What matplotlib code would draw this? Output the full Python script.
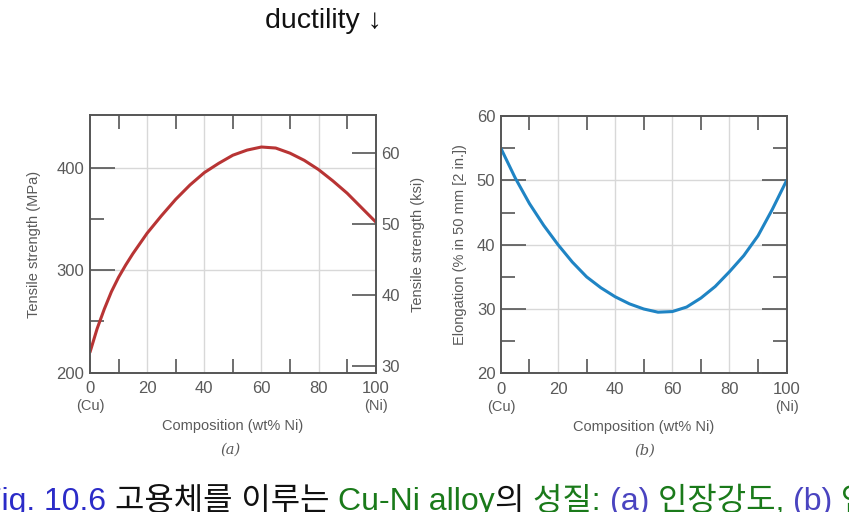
import matplotlib
matplotlib.use("Agg")
import matplotlib.pyplot as plt
import numpy as np

# (a) tensile strength vs composition
comp_a = [0, 2.5, 5, 7.5, 10, 12.5, 15, 17.5, 20, 25, 30, 35, 40, 45, 50, 55, 60, 65, 70, 75, 80, 85, 90, 95, 100]
tensile = [220, 243, 262, 279, 293, 305, 316, 326, 336, 353, 369, 383, 395, 404, 412, 417, 420, 419, 414, 407, 398, 387, 375, 361, 347]

# (b) elongation vs composition
comp_b = [0, 5, 10, 15, 20, 25, 30, 35, 40, 45, 50, 55, 60, 65, 70, 75, 80, 85, 90, 95, 100]
elong = [55, 50.4, 46.4, 43, 40, 37.3, 35, 33.3, 31.9, 30.8, 30, 29.5, 29.6, 30.3, 31.7, 33.5, 35.8, 38.3, 41.4, 45.5, 50]

xticks = [0, 20, 40, 60, 80, 100]
caption = [("Fig. 10.6 ", "#2b2bc8"), ("고용체를 이루는 ", "#111111"), ("Cu-Ni alloy", "#1a7a1a"),
           ("의 ", "#111111"), ("성질: ", "#1a7a1a"), ("(a) ", "#4a44c0"), ("인장강도, ", "#1a7a1a"),
           ("(b) ", "#4a44c0"), ("연성", "#1a7a1a")]

TXT = "#5a5a5a"
SP = "#555555"
GRID = "#d8d8d8"
plt.rcParams['font.family'] = ['Liberation Sans', 'Noto Sans CJK KR']

fig = plt.figure(figsize=(8.49, 5.12), dpi=100)


def style_axes(ax, ylim, ymajor, yminor, ygrid):
    ax.set_xlim(0, 100)
    ax.set_ylim(*ylim)
    for s in ax.spines.values():
        s.set_color(SP)
        s.set_linewidth(1.4)
    for g in [20, 40, 60, 80]:
        ax.axvline(g, color=GRID, lw=1, zorder=0)
    for g in ygrid:
        ax.axhline(g, color=GRID, lw=1, zorder=0)
    ax.set_xticks(xticks)
    ax.set_xticks([10, 30, 50, 70, 90], minor=True)
    ax.set_xticklabels([str(v) for v in xticks])
    ax.set_yticks(ymajor)
    ax.set_yticks(yminor, minor=True)
    ax.tick_params(which='major', direction='in', length=18, width=1.2, color=SP,
                   labelsize=12, labelcolor=TXT, top=True, bottom=True, pad=4)
    ax.tick_params(which='minor', direction='in', length=10, width=1.2, color=SP, top=True, bottom=True)
    ax.tick_params(axis='x', which='major', length=0, pad=6)
    ax.text(0, -0.13, "(Cu)", transform=ax.get_xaxis_transform(), ha='center', va='center',
            fontsize=10.5, color=TXT)
    ax.text(100, -0.13, "(Ni)", transform=ax.get_xaxis_transform(), ha='center', va='center',
            fontsize=10.5, color=TXT)
    ax.set_xlabel("Composition (wt% Ni)", fontsize=10.5, color=TXT)
    ax.xaxis.set_label_coords(0.5, -0.18)


# panel (a)
ax1 = fig.add_axes([0.106, 0.272, 0.3365, 0.503])
style_axes(ax1, (200, 451), [200, 300, 400], [250, 350], [300, 400])
ax1.plot(comp_a, tensile, color="#b83434", lw=2.2, solid_joinstyle='round', solid_capstyle='round')
ax1.tick_params(axis='y', which='both', right=False)
ax1.set_ylabel("Tensile strength (MPa)", fontsize=10.5, color=TXT)
ax1.yaxis.set_label_coords(-0.17, 0.5)
ax1.text(0.49, -0.30, "(a)", transform=ax1.transAxes, ha='center', va='center',
         fontsize=10.5, style='italic', family='DejaVu Serif', color=TXT)

ax1r = ax1.twinx()
ax1r.set_ylim(200 / 6.895, 451 / 6.895)
ax1r.set_yticks([30, 40, 50, 60])
ax1r.tick_params(direction='in', length=17, width=1.2, color=SP, labelsize=12, labelcolor=TXT, pad=4)
for s in ax1r.spines.values():
    s.set_visible(False)
ax1r.set_ylabel("Tensile strength (ksi)", fontsize=10.5, color=TXT)
ax1r.yaxis.set_label_coords(1.122, 0.5)

# panel (b)
ax2 = fig.add_axes([0.590, 0.271, 0.3365, 0.502])
style_axes(ax2, (20, 60), [20, 30, 40, 50, 60], [25, 35, 45, 55], [30, 40, 50])
ax2.plot(comp_b, elong, color="#1f84c4", lw=2.2, solid_joinstyle='round', solid_capstyle='round')
ax2.tick_params(axis='y', which='both', right=True)
ax2.set_ylabel("Elongation (% in 50 mm [2 in.])", fontsize=10.5, color=TXT)
ax2.yaxis.set_label_coords(-0.12, 0.5)
ax2.text(0.504, -0.30, "(b)", transform=ax2.transAxes, ha='center', va='center',
         fontsize=10.5, style='italic', family='DejaVu Serif', color=TXT)

# title
fig.text(323 / 849, 1 - 21 / 512, "ductility \u2193", ha='center', va='center', fontsize=20.5,
         color="#111111", family=['Liberation Sans', 'DejaVu Sans'])

# caption, drawn piece by piece
fig.canvas.draw()
r = fig.canvas.get_renderer()
x = -18
for s, c in caption:
    t = fig.text(x / 849, 1 - 510 / 512, s, ha='left', va='baseline', fontsize=23, color=c)
    bb = t.get_window_extent(renderer=r)
    x += bb.width

fig.savefig("out.png", dpi=100)
